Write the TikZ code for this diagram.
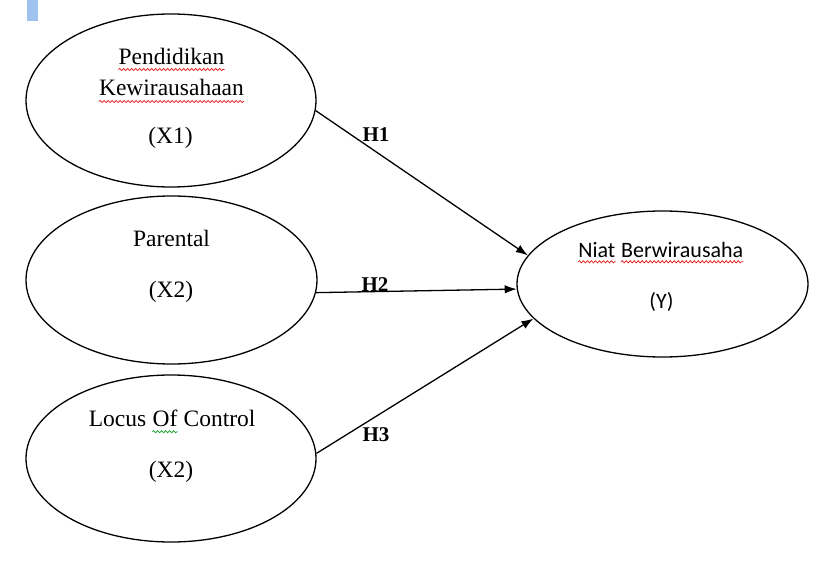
\documentclass[tikz,border=0pt]{standalone}
\usepackage{fontspec}
\setmainfont{Liberation Serif}
\newfontfamily\calib{Carlito}
\usetikzlibrary{shapes.geometric,arrows.meta,decorations.pathmorphing}
\definecolor{markblue}{RGB}{158,195,238}
\definecolor{spellred}{RGB}{230,20,20}
\definecolor{spellgreen}{RGB}{20,160,40}
\tikzset{
  ell/.style={ellipse, draw, line width=1.3pt, inner sep=0pt},
  txt/.style={inner sep=0pt, anchor=base, font=\fontsize{23.5}{28}\selectfont},
  ytxt/.style={inner sep=0pt, anchor=base, font=\calib\fontsize{22}{26}\selectfont},
  hyp/.style={inner sep=0pt, anchor=base, font=\fontsize{21}{25}\selectfont\bfseries},
  conn/.style={-{Latex[length=12pt,width=8.5pt]}, line width=1.3pt},
  wavy/.style={decorate, decoration={snake, amplitude=1.1pt, segment length=4pt}, line width=0.7pt}
}
\begin{document}
\begin{tikzpicture}[x=1pt,y=1pt]
\useasboundingbox (0,0) rectangle (832,563);
\fill[markblue] (27,542) rectangle (38,563);

% ellipses
\node[ell, minimum width=290pt, minimum height=173pt] (x1) at (171,462.5) {};
\node[ell, minimum width=291pt, minimum height=168pt] (x2) at (171.5,283) {};
\node[ell, minimum width=290pt, minimum height=167pt] (x3) at (171,104.5) {};
\node[ell, minimum width=291pt, minimum height=146pt] (y) at (662.5,279) {};

% X1 text
\node[txt] (pend) at (171.5,498.5) {Pendidikan};
\node[txt] (kewi) at (171.5,467) {Kewirausahaan};
\node[txt] (x1l) at (170.5,419) {(X1)};
\draw[wavy, spellred] ([yshift=-5pt]pend.base west) -- ([yshift=-5pt]pend.base east);
\draw[wavy, spellred] ([yshift=-5.5pt]kewi.base west) -- ([yshift=-5.5pt]kewi.base east);

% X2 text
\node[txt] (par) at (171.5,316.3) {Parental};
\node[txt] (x2l) at (171,266) {(X2)};

% X3 text
\node[txt] (ofw) at (165,136.3) {Of};
\node[txt, anchor=base east] (locw) at ([xshift=-5.9pt]ofw.base west) {Locus};
\node[txt, anchor=base west] (ctlw) at ([xshift=5.9pt]ofw.base east) {Control};
\draw[wavy, spellgreen] ([yshift=-5pt]ofw.base west) -- ([yshift=-5pt]ofw.base east);
\node[txt] (x3l) at (171,85.3) {(X2)};

% Y text
\node[ytxt, anchor=base east] (niat) at (615.5,305.7) {Niat};
\node[ytxt, anchor=base west] (berw) at ([xshift=5.5pt]niat.base east) {Berwirausaha};
\draw[wavy, spellred] ([yshift=-4.5pt]niat.base west) -- ([yshift=-4.5pt]niat.base east);
\draw[wavy, spellred] ([yshift=-4.5pt]berw.base west) -- ([yshift=-4.5pt]berw.base east);
\node[ytxt] (yl) at (661.5,255) {(Y)};

% connectors
\draw[conn] (x1.-4.7) -- (y.168.7);
\draw[conn] (x2.-5) -- (y.182.4);
\draw[conn] (x3.2.4) -- (y.195);

% hypothesis labels
\node[hyp] (h1) at (376,421.3) {H1};
\node[hyp] (h2) at (375,271.3) {H2};
\node[hyp] (h3) at (376,121.3) {H3};
\end{tikzpicture}
\end{document}
